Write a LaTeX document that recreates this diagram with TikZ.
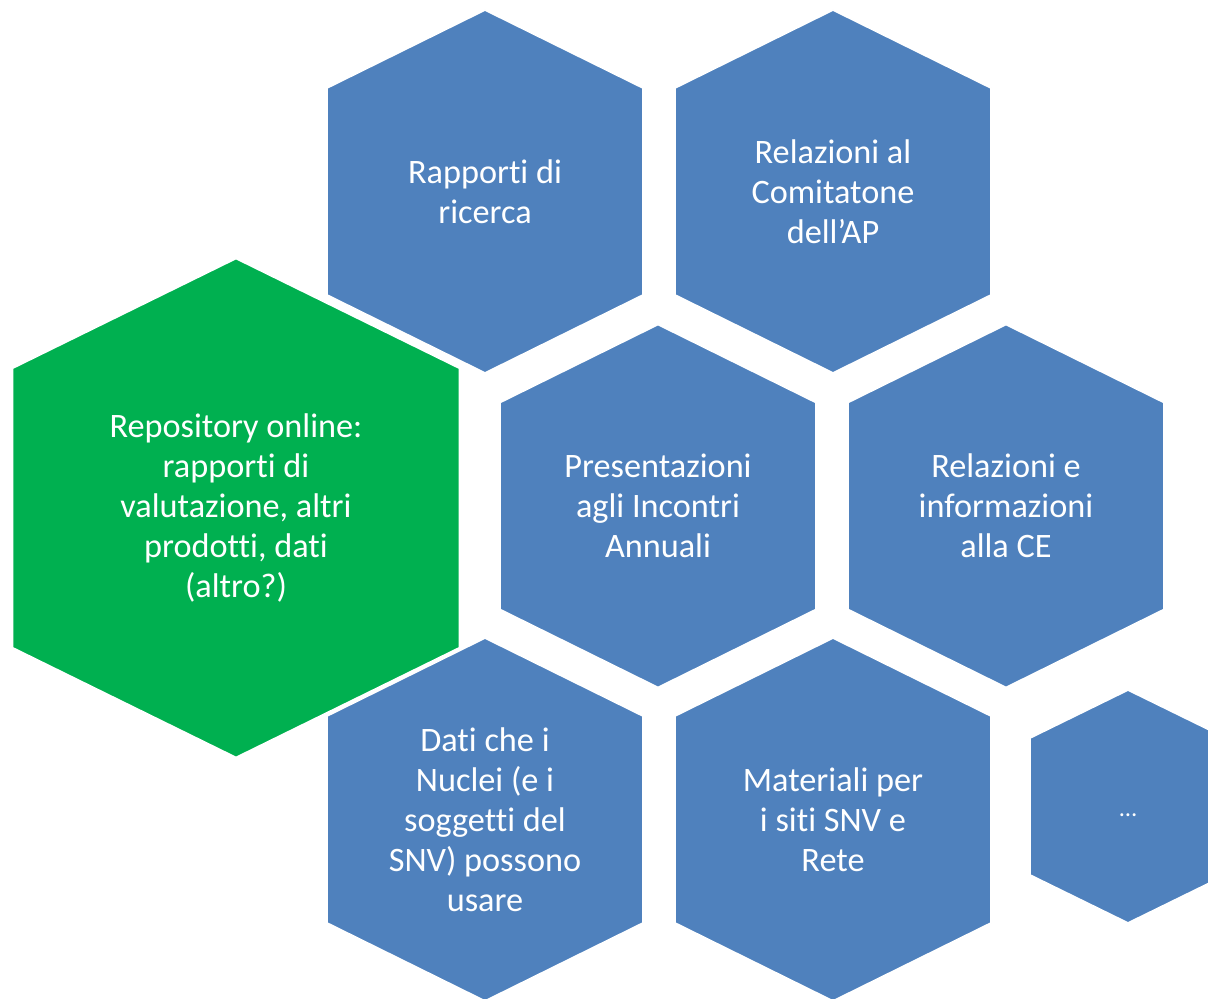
\documentclass[tikz,border=0pt]{standalone}
\usepackage{fontspec}
\setmainfont[Ligatures=NoCommon]{Carlito}
\usepackage{tikz}
\usetikzlibrary{positioning, calc}
\definecolor{cellblue}{RGB}{79, 129, 189}
\definecolor{cellgreen}{RGB}{0, 176, 80}

% hexagon cell: #1 style, #2 cx, #3 cy, #4 half width, #5 vertex drop, #6 half height
\newcommand{\hexcell}[6]{%
  \path[#1] (#2,#3-#6) -- (#2+#4,#3-#6+#5) -- (#2+#4,#3+#6-#5) -- (#2,#3+#6)
    -- (#2-#4,#3+#6-#5) -- (#2-#4,#3-#6+#5) -- cycle;}

\begin{document}
\begin{tikzpicture}[
    x=0.02cm, y=-0.02cm,
    bluecell/.style={fill=cellblue, draw=white, line width=1pt},
    greencell/.style={fill=cellgreen, draw=white, line width=1.5pt},
    celltext/.style={text=white, align=center, font=\fontsize{19.5}{22.7}\selectfont}
]
    \useasboundingbox (0,0) rectangle (1208,999);

    % Blue cells
    \hexcell{bluecell}{485}{191.5}{158}{78}{181.5}
    \hexcell{bluecell}{833}{191.5}{158}{78}{181.5}
    \hexcell{bluecell}{658}{506}{158}{78}{181.5}
    \hexcell{bluecell}{1006}{506}{158}{78}{181.5}
    \hexcell{bluecell}{485}{819.5}{158}{78}{181.5}
    \hexcell{bluecell}{833}{819.5}{158}{78}{181.5}
    \hexcell{bluecell}{1128}{806.5}{98}{48}{116.5}

    % Green cell
    \hexcell{greencell}{236}{508}{224}{110}{250}

    % Labels
    \node[celltext] (ricerca) at (485,191.5) {Rapporti di\\ricerca};
    \node[celltext] (comitatone) at (833,191.5) {Relazioni al\\Comitatone\\dell’AP};
    \node[celltext] (incontri) at (658,506) {Presentazioni\\agli Incontri\\Annuali};
    \node[celltext] (ce) at (1006,506) {Relazioni e\\informazioni\\alla CE};
    \node[celltext] (dati) at (485,819.5) {Dati che i\\Nuclei (e i\\soggetti del\\SNV) possono\\usare};
    \node[celltext] (siti) at (833,819.5) {Materiali per\\i siti SNV e\\Rete};
    \node[celltext, font=\fontsize{14}{17}\selectfont] (altro) at (1128,815) {…};
    \node[celltext] (repository) at (236,508) {Repository online:\\rapporti di\\valutazione, altri\\prodotti, dati\\(altro?)};
\end{tikzpicture}
\end{document}
